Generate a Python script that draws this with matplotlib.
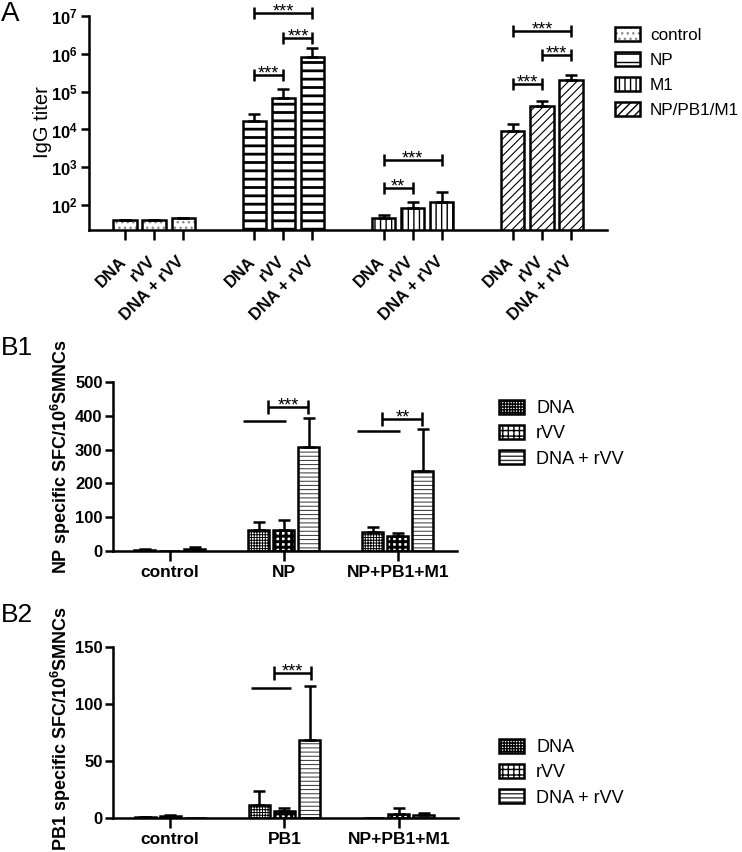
import matplotlib
matplotlib.use("Agg")
import matplotlib.pyplot as plt
import matplotlib.patches as mpatches
from matplotlib.legend_handler import HandlerTuple
from matplotlib.ticker import NullLocator
from matplotlib.transforms import ScaledTranslation

plt.rcParams['font.family'] = ['Liberation Sans', 'DejaVu Sans']
plt.rcParams['mathtext.fontset'] = 'custom'
plt.rcParams['mathtext.rm'] = 'Liberation Sans'
plt.rcParams['mathtext.bf'] = 'Liberation Sans:bold'

# --- data ---
treatments = ["DNA", "rVV", "DNA + rVV"]

# panel A: IgG titer (mean, sd), one row per immunogen
groups_a = ["control", "NP", "M1", "NP/PB1/M1"]
igg_mean = [[40, 40, 45], [17000, 70000, 830000], [45, 83, 120], [8900, 43000, 200000]]
igg_sd = [[0, 0, 2], [8000, 50000, 620000], [10, 37, 100], [5100, 15000, 70000]]
# (group, bar i, bar j, y, label)
sig_a = [(1, 0, 1, 2.7e5, "***"), (1, 1, 2, 2.6e6, "***"), (1, 0, 2, 1.17e7, "***"),
         (2, 0, 1, 280, "**"), (2, 0, 2, 1550, "***"),
         (3, 0, 1, 1.55e5, "***"), (3, 1, 2, 9.1e5, "***"), (3, 0, 2, 3.9e6, "***")]

# panel B1: NP specific SFC
groups_b1 = ["control", "NP", "NP+PB1+M1"]
np_dna = [3, 62, 56]
np_dna_sd = [3, 24, 15]
np_rvv = [0, 63, 44]
np_rvv_sd = [0, 29, 9]
np_both = [6, 308, 237]
np_both_sd = [6, 85, 123]
# (group, line y, bracket y, label)
sig_b1 = [(1, 385, 426, "***"), (2, 355, 390, "**")]

# panel B2: PB1 specific SFC
groups_b2 = ["control", "PB1", "NP+PB1+M1"]
pb1_dna = [0.8, 11.5, 0]
pb1_dna_sd = [0.5, 12, 0]
pb1_rvv = [1.5, 6, 3.5]
pb1_rvv_sd = [1.5, 3, 5]
pb1_both = [0, 68, 3]
pb1_both_sd = [0, 48, 1.5]
sig_b2 = [(1, 114, 127, "***")]

# --- styling ---
W, H = 742, 852
LW = 1.8

def fx(px):
    return px / W

def fy(py):
    return 1 - py / H

# face, hatch, hatch colour, hatch linewidth
style_a = {
    "control": ("white", "...", "#8a8a8a", 1.0),
    "NP": ("white", "--", "black", 2.0),
    "M1": ("white", "|||", "black", 1.0),
    "NP/PB1/M1": ("white", "////", "black", 0.8),
}
style_b = {
    "DNA": ("white", "++++++", "black", 0.7),
    "rVV": ("white", "+++", "black", 2.1),
    "DNA + rVV": ("white", "----", "#333333", 0.7),
}


def styled_bar(ax, x, h, w, style, bottom=0):
    face, hatch, hcol, hlw = style
    with plt.rc_context({"hatch.linewidth": hlw}):
        bars = ax.bar(x, h, w, bottom=bottom, color=face, edgecolor=hcol,
                      hatch=hatch, linewidth=0, zorder=2)
    for b in bars:
        if hasattr(b, "set_hatch_linewidth"):
            b.set_hatch_linewidth(hlw)
    ax.bar(x, h, w, bottom=bottom, fill=False, edgecolor="black", linewidth=LW, zorder=3)


def style_handle(style):
    face, hatch, hcol, hlw = style
    with plt.rc_context({"hatch.linewidth": hlw}):
        fill = mpatches.Patch(facecolor=face, edgecolor=hcol, hatch=hatch, linewidth=0)
    if hasattr(fill, "set_hatch_linewidth"):
        fill.set_hatch_linewidth(hlw)
    outline = mpatches.Patch(fill=False, edgecolor="black", linewidth=LW)
    return (fill, outline)


def bracket(ax, x1, x2, y, text=None, ends=True, size=8):
    ax.plot([x1, x2], [y, y], color="black", lw=LW, clip_on=False, solid_capstyle="butt", zorder=5)
    if ends:
        ax.plot([x1, x2], [y, y], ls="none", marker="|", ms=size, mew=LW, color="black",
                clip_on=False, zorder=5)
    if text:
        ax.annotate(text, ((x1 + x2) / 2, y), xytext=(0, -2.5), textcoords="offset points",
                    ha="center", va="baseline", fontsize=13, annotation_clip=False)


def style_axes(ax):
    for s in ["top", "right"]:
        ax.spines[s].set_visible(False)
    for s in ["left", "bottom"]:
        ax.spines[s].set_linewidth(LW)
    ax.tick_params(width=LW, length=6, direction="out")


fig = plt.figure(figsize=(7.42, 8.52), dpi=100)

# --- Panel A ---
axA = fig.add_axes([fx(89), fy(230), fx(607 - 89), (230 - 16) / H])
GA = 4.45
wA = 0.8
axA.set_yscale("log")
xs_a = []
for g, grp in enumerate(groups_a):
    for i in range(3):
        x = g * GA + i - 1
        xs_a.append(x)
        styled_bar(axA, x, igg_mean[g][i] - 1, wA, style_a[grp], bottom=1)
        axA.errorbar(x, igg_mean[g][i], yerr=[[0], [igg_sd[g][i]]], fmt="none", ecolor="black",
                     elinewidth=LW, capsize=4.5, capthick=LW, zorder=4)
for g, i, j, y, lab in sig_a:
    bracket(axA, g * GA + i - 1, g * GA + j - 1, y, lab, size=8)

axA.set_ylim(22, 1e7)
axA.set_xlim(-2.24, 3 * GA + 2.24)
axA.yaxis.set_minor_locator(NullLocator())
axA.set_yticks([1e2, 1e3, 1e4, 1e5, 1e6, 1e7])
axA.set_yticklabels([r"$\mathbf{10^{%d}}$" % k for k in range(2, 8)], fontsize=12)
axA.set_xticks(xs_a)
axA.set_xticklabels(treatments * len(groups_a), rotation=45, ha="right", va="top",
                    fontsize=12, fontweight="bold")
style_axes(axA)
axA.tick_params(axis="x", length=7, pad=10)
axA.tick_params(axis="y", pad=2)
shift = ScaledTranslation(4 / 100, 0, fig.dpi_scale_trans)
for lab in axA.get_xticklabels():
    lab.set_transform(lab.get_transform() + shift)

fig.legend([style_handle(style_a[g]) for g in groups_a], groups_a,
           handler_map={tuple: HandlerTuple(ndivide=1)},
           loc="upper left", bbox_to_anchor=(fx(615), fy(27)), frameon=False, fontsize=12.3,
           handlelength=1.45, handleheight=0.85, handletextpad=0.6, labelspacing=0.55,
           borderpad=0, borderaxespad=0)

fig.text(fx(1), fy(1), "A", fontsize=20, ha="left", va="top")
fig.text(fx(43), fy(122), "IgG titer", rotation=90, ha="center", va="center", fontsize=14.5)


# --- Panels B1, B2 ---
def panel_b(ax, groups, series, sds, sig, ymax, ystep, line_off, br_off):
    GB = 4.56
    wB = 0.84
    for g in range(len(groups)):
        for i, tr in enumerate(treatments):
            x = g * GB + i - 1
            styled_bar(ax, x, series[i][g], wB, style_b[tr])
            if sds[i][g] > 0:
                ax.errorbar(x, series[i][g], yerr=[[0], [sds[i][g]]], fmt="none", ecolor="black",
                            elinewidth=LW, capsize=4.5, capthick=LW, zorder=4)
    for g, yl, yb, lab in sig:
        c = g * GB
        bracket(ax, c + line_off[0], c + line_off[1], yl, ends=False)
        bracket(ax, c + br_off[0], c + br_off[1], yb, lab, size=9.5)
    ax.set_ylim(0, ymax)
    ax.set_xlim(-2.28, 2 * GB + 2.36)
    ax.set_yticks(range(0, ymax + 1, ystep))
    ax.set_yticklabels([str(v) for v in range(0, ymax + 1, ystep)], fontsize=12, fontweight="bold")
    ax.set_xticks([g * GB for g in range(len(groups))])
    ax.set_xticklabels(groups, fontsize=12.5, fontweight="bold")
    style_axes(ax)
    ax.tick_params(axis="x", length=7, pad=3)
    ax.tick_params(axis="y", pad=1.5)


axB1 = fig.add_axes([fx(113), fy(551), fx(457 - 113), (551 - 382) / H])
panel_b(axB1, groups_b1, [np_dna, np_rvv, np_both], [np_dna_sd, np_rvv_sd, np_both_sd],
        sig_b1, 500, 100, (-1.62, 0.1), (-0.62, 0.98))

axB2 = fig.add_axes([fx(113), fy(818), fx(458 - 113), (818 - 647) / H])
panel_b(axB2, groups_b2, [pb1_dna, pb1_rvv, pb1_both], [pb1_dna_sd, pb1_rvv_sd, pb1_both_sd],
        sig_b2, 150, 50, (-1.34, 0.26), (-0.42, 1.06))

for anchor in [(fx(499), fy(400)), (fx(499), fy(739))]:
    fig.legend([style_handle(style_b[t]) for t in treatments], treatments,
               handler_map={tuple: HandlerTuple(ndivide=1)},
               loc="upper left", bbox_to_anchor=anchor, frameon=False, fontsize=13,
               handlelength=1.4, handleheight=0.85, handletextpad=0.65, labelspacing=0.42,
               borderpad=0, borderaxespad=0)

fig.text(fx(1), fy(336), "B1", fontsize=19, ha="left", va="top")
fig.text(fx(1), fy(603), "B2", fontsize=19, ha="left", va="top")
fig.text(fx(61), fy(457), r"NP specific SFC/10$^{\mathbf{6}}$SMNCs", rotation=90,
         ha="center", va="center", fontsize=13, fontweight="bold")
fig.text(fx(61), fy(728), r"PB1 specific SFC/10$^{\mathbf{6}}$SMNCs", rotation=90,
         ha="center", va="center", fontsize=13, fontweight="bold")

fig.savefig("out.png", dpi=100)
